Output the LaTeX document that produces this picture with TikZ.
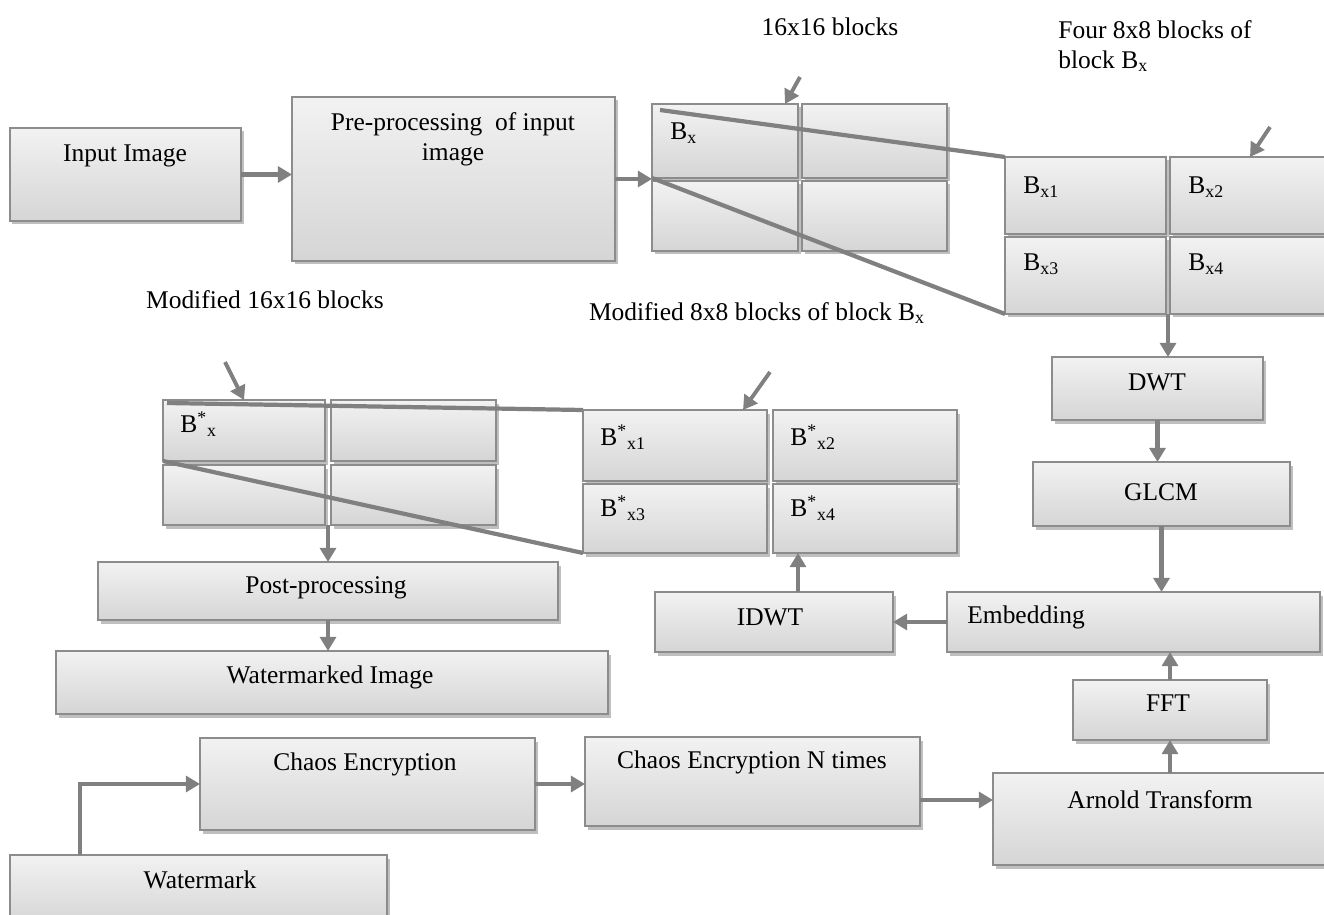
\documentclass[tikz,border=0pt]{standalone}
\usepackage{fontspec}
\setmainfont{Liberation Serif}
\usepackage{tikz}
\usetikzlibrary{arrows.meta,fit,shadows,positioning}
\definecolor{boxline}{HTML}{8C8C8C}
\definecolor{boxtop}{HTML}{F2F2F2}
\definecolor{boxbot}{HTML}{D5D5D5}
\definecolor{arrgray}{HTML}{808080}
\tikzset{
  blk/.style={draw=boxline,line width=0.8pt,top color=boxtop,bottom color=boxbot,
    inner sep=0pt,outer sep=0pt,
    drop shadow={shadow xshift=0.05cm,shadow yshift=-0.07cm,fill=black,opacity=0.25}},
  txt/.style={inner sep=0pt,font=\fontsize{14.5}{17}\selectfont,align=center},
  arr/.style={draw=arrgray,line width=2.4pt,-{Triangle[length=8pt,width=9pt]}},
  zoomln/.style={draw=arrgray,line width=2.4pt},
  ptr/.style={draw=arrgray,line width=2.2pt,-{Triangle[length=8pt,width=9pt]}}
}
\begin{document}
\begin{tikzpicture}[x=0.02cm,y=-0.02cm]
		\useasboundingbox (0,0) rectangle (1324,915);
		% input side
		\node[blk,fit={(10,128) (241,221)}] (inp) {};
		\node[txt] (inp-t) at (125,156) {Input Image};
		\node[blk,fit={(292,97) (615,261)}] (pre) {};
		\node[txt] (pre-t) at (453,139) {Pre-processing\ \ of input\\image};
		% 16x16 blocks
		\node[blk,fit={(652,104) (798,178)}] (b11) {};
		\node[blk,fit={(802,104) (947,178)}] (b12) {};
		\node[blk,fit={(652,181) (798,251)}] (b21) {};
		\node[blk,fit={(802,181) (947,251)}] (b22) {};
		\node[txt,anchor=west] (b11-t) at (670,133) {B\textsubscript{x}};
		\node[txt] (lbl16) at (830,27) {16x16 blocks};
		% four 8x8 blocks
		\node[blk,fit={(1005,157) (1166,234)}] (bx1) {};
		\node[blk,fit={(1170,157) (1330,234)}] (bx2) {};
		\node[blk,fit={(1005,237) (1166,314)}] (bx3) {};
		\node[blk,fit={(1170,237) (1330,314)}] (bx4) {};
		\node[txt,anchor=west] (bx1-t) at (1023,187) {B\textsubscript{x1}};
		\node[txt,anchor=west] (bx2-t) at (1188,187) {B\textsubscript{x2}};
		\node[txt,anchor=west] (bx3-t) at (1023,264) {B\textsubscript{x3}};
		\node[txt,anchor=west] (bx4-t) at (1188,264) {B\textsubscript{x4}};
		\node[txt,anchor=north west,align=left] (lbl8) at (1058,20) {Four 8x8 blocks of\\block B\textsubscript{x}};
		% right column
		\node[blk,fit={(1052,357) (1263,420)}] (dwt) {};
		\node[txt] (dwt-t) at (1157,382) {DWT};
		\node[blk,fit={(1033,462) (1290,526)}] (glcm) {};
		\node[txt] (glcm-t) at (1161,492) {GLCM};
		\node[blk,fit={(947,592) (1320,652)}] (emb) {};
		\node[txt,anchor=west] (emb-t) at (967,617) {Embedding};
		\node[blk,fit={(655,592) (893,652)}] (idwt) {};
		\node[txt] (idwt-t) at (770,617) {IDWT};
		\node[blk,fit={(1073,680) (1267,740)}] (fft) {};
		\node[txt] (fft-t) at (1168,703) {FFT};
		\node[blk,fit={(993,773) (1330,865)}] (arn) {};
		\node[txt] (arn-t) at (1160,800) {Arnold Transform};
		% modified 8x8 blocks
		\node[blk,fit={(583,410) (767,481)}] (mx1) {};
		\node[blk,fit={(773,410) (957,481)}] (mx2) {};
		\node[blk,fit={(583,484) (767,553)}] (mx3) {};
		\node[blk,fit={(773,484) (957,553)}] (mx4) {};
		\node[txt,anchor=west] (mx1-t) at (600,437) {B\textsuperscript{*}\textsubscript{x1}};
		\node[txt,anchor=west] (mx2-t) at (790,437) {B\textsuperscript{*}\textsubscript{x2}};
		\node[txt,anchor=west] (mx3-t) at (600,508) {B\textsuperscript{*}\textsubscript{x3}};
		\node[txt,anchor=west] (mx4-t) at (790,508) {B\textsuperscript{*}\textsubscript{x4}};
		\node[txt] (lblm8) at (757,313) {Modified 8x8 blocks of block B\textsubscript{x}};
		% modified 16x16 blocks
		\node[blk,fit={(163,400) (325,461)}] (m11) {};
		\node[blk,fit={(331,400) (496,461)}] (m12) {};
		\node[blk,fit={(163,465) (325,525)}] (m21) {};
		\node[blk,fit={(331,465) (496,525)}] (m22) {};
		\node[txt,anchor=west] (m11-t) at (180,424) {B\textsuperscript{*}\textsubscript{x}};
		\node[txt] (lblm16) at (265,300) {Modified 16x16 blocks};
		% output side
		\node[blk,fit={(98,562) (558,620)}] (post) {};
		\node[txt] (post-t) at (326,588) {Post-processing};
		\node[blk,fit={(56,651) (608,714)}] (wimg) {};
		\node[txt] (wimg-t) at (330,677) {Watermarked Image};
		% watermark side
		\node[blk,fit={(200,738) (535,830)}] (ch1) {};
		\node[txt] (ch1-t) at (365,764) {Chaos Encryption};
		\node[blk,fit={(585,737) (920,826)}] (chn) {};
		\node[txt] (chn-t) at (752,762) {Chaos Encryption N times};
		\node[blk,fit={(10,855) (387,925)}] (wm) {};
		\node[txt] (wm-t) at (200,880) {Watermark};
		% zoom lines
		\draw[zoomln] ([shift={(0.16cm,-0.12cm)}]b11.north west) -- (bx1.north west);
		\draw[zoomln] (b11.south west) -- (bx3.south west);
		\draw[zoomln] ([shift={(0.08cm,-0.06cm)}]m11.north west) -- (mx1.north west);
		\draw[zoomln] (m11.south west) -- (mx3.south west);
		% pointers
		\coordinate (p1) at (800,77);
		\coordinate (p2) at (1270,127);
		\coordinate (p3) at (225,362);
		\coordinate (p4) at (770,372);
		\draw[ptr] (p1) -- ([xshift=-0.26cm]b11.north east);
		\draw[ptr] (p2) -- (bx2.north);
		\draw[ptr] (p3) -- (m11.north);
		\draw[ptr] (p4) -- ([xshift=-0.48cm]mx1.north east);
		% flow
		\draw[arr] (inp.east) -- (inp.east -| pre.west);
		\draw[arr] (pre.east) -- (pre.east -| b11.west);
		\coordinate (gap) at ([xshift=0.04cm]bx3.south east);
		\draw[arr] (gap) -- (gap |- dwt.north);
		\draw[arr] (dwt.south) -- (dwt.south |- glcm.north);
		\draw[arr] (glcm.south) -- (glcm.south |- emb.north);
		\draw[arr] (emb.west) -- (emb.west -| idwt.east);
		\coordinate (up) at ([xshift=0.5cm]mx4.south west);
		\draw[arr] (up |- idwt.north) -- (up);
		\draw[arr] (post.north |- m21.south) -- (post.north);
		\draw[arr] (post.south) -- (post.south |- wimg.north);
		\draw[arr] (fft.north) -- (fft.north |- emb.south);
		\draw[arr] (fft.south |- arn.north) -- (fft.south);
		\draw[arr] (chn.east |- arn-t) -- (arn.west |- arn-t);
		\draw[arr] (ch1.east) -- (ch1.east -| chn.west);
		\draw[arr] ([xshift=1.4cm]wm.north west) |- (ch1.west);
	\end{tikzpicture}
\end{document}
